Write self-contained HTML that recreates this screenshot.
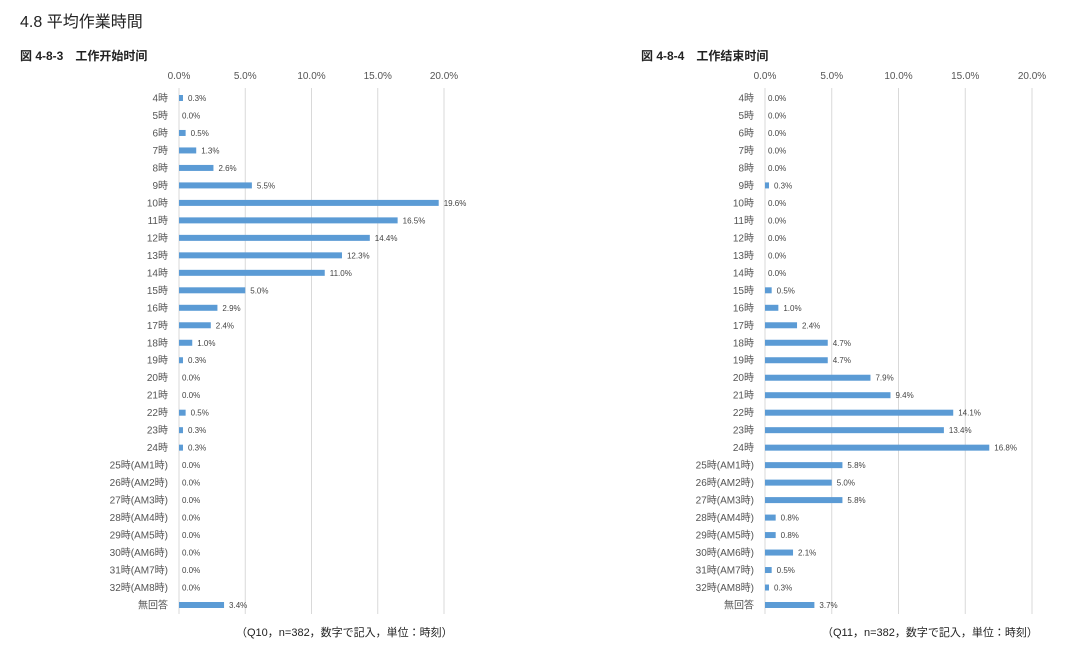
<!DOCTYPE html>
<html><head><meta charset="utf-8">
<style>
body{margin:0;background:#fff;width:1080px;height:656px;overflow:hidden;font-family:"Liberation Sans","Noto Sans CJK JP",sans-serif;}
svg text{font-family:"Liberation Sans","Noto Sans CJK JP",sans-serif;}
</style></head>
<body>
<svg id="c" width="1080" height="656">
<text x="20" y="27" font-size="16" fill="#222">4.8 平均作業時間</text>
<text x="20" y="60" font-size="12" font-weight="bold" fill="#222">図 4-8-3　工作开始时间</text>
<text x="641" y="60" font-size="12" font-weight="bold" fill="#222">図 4-8-4　工作结束时间</text>
<text x="236" y="636" font-size="11" fill="#222">（Q10，n=382，数字で記入，単位：時刻）</text>
<text x="822" y="636" font-size="11" fill="#222">（Q11，n=382，数字で記入，単位：時刻）</text>
</svg>
<script>
const categories=["4時","5時","6時","7時","8時","9時","10時","11時","12時","13時","14時","15時","16時","17時","18時","19時","20時","21時","22時","23時","24時","25時(AM1時)","26時(AM2時)","27時(AM3時)","28時(AM4時)","29時(AM5時)","30時(AM6時)","31時(AM7時)","32時(AM8時)","無回答"];
const startValues=[0.3,0,0.5,1.3,2.6,5.5,19.6,16.5,14.4,12.3,11.0,5.0,2.9,2.4,1.0,0.3,0,0,0.5,0.3,0.3,0,0,0,0,0,0,0,0,3.4];
const endValues=[0,0,0,0,0,0.3,0,0,0,0,0,0.5,1.0,2.4,4.7,4.7,7.9,9.4,14.1,13.4,16.8,5.8,5.0,5.8,0.8,0.8,2.1,0.5,0.3,3.7];
const tickValues=[0,5,10,15,20];
const tickLabels=["0.0%","5.0%","10.0%","15.0%","20.0%"];
const svg=document.getElementById('c');
const NS="http://www.w3.org/2000/svg";
function mk(tag,attrs,txt){const e=document.createElementNS(NS,tag);for(const k in attrs)e.setAttribute(k,attrs[k]);if(txt!==undefined)e.textContent=txt;svg.appendChild(e);return e;}
function drawChart(prefix,x0,x20,values){
  const xs=v=>x0+(x20-x0)*v/20;
  const y0=98,step=(605-98)/(categories.length-1);
  const ys=i=>y0+i*step;
  tickValues.forEach((t,i)=>{
    const g=mk('line',{x1:xs(t),x2:xs(t),y1:88,y2:614,stroke:'#d9d9d9','stroke-width':1});
    
    
    const l=mk('text',{x:xs(t),y:79,'font-size':10,fill:'#555','text-anchor':'middle'},tickLabels[i]);
    
    
  });
  categories.forEach((c,i)=>{
    const y=ys(i);
    const l=mk('text',{x:x0-11,y:y+3.5,'font-size':10,fill:'#555','text-anchor':'end'},c);
    
    
    const v=values[i];
    const w=xs(v)-x0;
    if(v>0){
      const b=mk('rect',{x:x0,y:y-3,width:w,height:6,fill:'#5b9bd5'});
      
      
    }
    const vl=mk('text',{x:x0+w+(v>0?5:3),y:y+3,'font-size':8,fill:'#444'},v.toFixed(1)+'%');
    
    
  });
}
drawChart('start',179,444,startValues);
drawChart('end',765,1032,endValues);
</script>
</body></html>
